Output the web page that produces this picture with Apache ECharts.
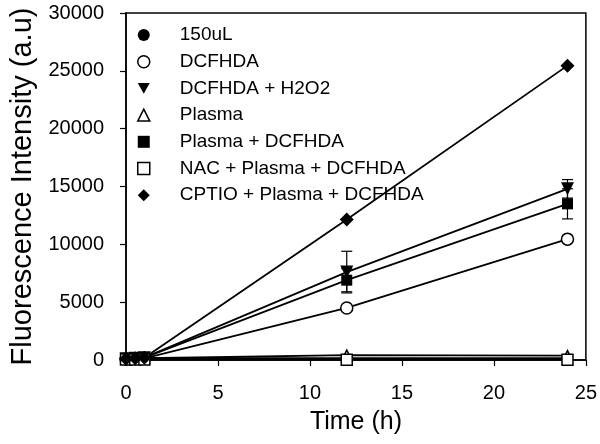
<!DOCTYPE html>
<html>
<head>
<meta charset="utf-8">
<script src="https://cdn.jsdelivr.net/npm/echarts@6/dist/echarts.min.js"></script>
<style>
  html, body { margin: 0; padding: 0; background: #fff; }
  #chart { width: 600px; height: 444px; }
</style>
</head>
<body>
<div id="chart"></div>
<script>
  // sampling times (h)
  const times = [0, 0.5, 1, 12, 24];

  // series values (a.u)
  const val150uL = [100, 120, 150, 150, 150];
  const valDCFHDA = [80, 100, 150, 4500, 10450];
  const valH2O2 = [100, 150, 200, 7600, 14800];
  const valPlasma = [100, 120, 150, 420, 380];
  const valPlasmaDCF = [100, 150, 200, 6900, 13500];
  const valNAC = [50, 50, 50, 30, 30];
  const valCPTIO = [100, 150, 200, 12150, 25450];

  // error bars (+/-)
  const errH2O2 = [0, 0, 0, 1800, 800];
  const errPlasmaDCF = [0, 0, 0, 1000, 1300];

  const xTicks = [0, 5, 10, 15, 20, 25];
  const yTicks = [0, 5000, 10000, 15000, 20000, 25000, 30000];

  const downTri = 'path://M0,0L10,0L5,9Z';
  const font = "'Liberation Sans', Arial, sans-serif";

  const filled = { color: '#000', borderColor: '#000', borderWidth: 0 };
  const hollow = { color: '#fff', borderColor: '#000', borderWidth: 1.5 };

  // name, symbol, size, style, values
  const defs = [
    ['150uL', 'circle', 10, filled, val150uL],
    ['DCFHDA', 'circle', 12, hollow, valDCFHDA],
    ['DCFHDA + H2O2', downTri, 13, filled, valH2O2],
    ['Plasma', 'triangle', 10, hollow, valPlasma],
    ['Plasma + DCFHDA', 'rect', 11, filled, valPlasmaDCF],
    ['NAC + Plasma + DCFHDA', 'rect', 11, hollow, valNAC],
    ['CPTIO + Plasma + DCFHDA', 'diamond', 14, filled, valCPTIO]
  ];

  function pairs(vals) {
    return times.map(function(t, i) { return [t, vals[i]]; });
  }

  function errData(vals, errs) {
    let out = [];
    for (let i = 0; i < times.length; i++) {
      if (errs[i]) out.push([times[i], vals[i] - errs[i], vals[i] + errs[i]]);
    }
    return out;
  }

  let series = [];
  // error bars drawn below markers
  series.push({
    type: 'custom',
    z: 1,
    silent: true,
    data: errData(valH2O2, errH2O2).concat(errData(valPlasmaDCF, errPlasmaDCF)),
    renderItem: function(params, api) {
      const lo = api.coord([api.value(0), api.value(1)]);
      const hi = api.coord([api.value(0), api.value(2)]);
      const w = 5.5;
      const st = { stroke: '#000', lineWidth: 1.2 };
      return {
        type: 'group',
        children: [
          { type: 'line', shape: { x1: lo[0], y1: lo[1], x2: hi[0], y2: hi[1] }, style: st },
          { type: 'line', shape: { x1: lo[0] - w, y1: lo[1], x2: lo[0] + w, y2: lo[1] }, style: st },
          { type: 'line', shape: { x1: hi[0] - w, y1: hi[1], x2: hi[0] + w, y2: hi[1] }, style: st }
        ]
      };
    }
  });

  defs.forEach(function(d) {
    series.push({
      name: d[0],
      type: 'line',
      z: 2,
      data: pairs(d[4]),
      symbol: d[1],
      symbolSize: d[2],
      showAllSymbol: true,
      itemStyle: d[3],
      lineStyle: { color: '#000', width: 1.8 },
      emphasis: { disabled: true },
      animation: false
    });
  });

  const chart = echarts.init(document.getElementById('chart'));
  chart.setOption({
    backgroundColor: '#fff',
    animation: false,
    textStyle: { fontFamily: font, color: '#000' },
    grid: {
      left: 119, right: 13, top: 13, bottom: 84,
      show: true, borderColor: '#000', borderWidth: 1.5
    },
    legend: {
      orient: 'vertical',
      left: 137,
      top: 25,
      padding: 0,
      itemWidth: 12,
      itemHeight: 12,
      itemGap: 6.7,
      selectedMode: false,
      textStyle: { fontFamily: font, fontSize: 19, color: '#000', lineHeight: 20, padding: [0, 0, 0, 25] },
      data: defs.map(function(d) {
        return { name: d[0], icon: d[1], itemStyle: d[3] };
      })
    },
    xAxis: {
      type: 'value',
      min: xTicks[0],
      max: xTicks[xTicks.length - 1],
      interval: 5,
      name: 'Time (h)',
      nameLocation: 'middle',
      nameGap: 50,
      nameTextStyle: { fontFamily: font, fontSize: 25, color: '#000' },
      axisLine: { onZero: false, lineStyle: { color: '#000', width: 1.5 } },
      axisTick: { show: true, inside: false, length: 6, lineStyle: { color: '#000', width: 1.2 } },
      axisLabel: { fontFamily: font, fontSize: 20, color: '#000', margin: 23 },
      splitLine: { show: false }
    },
    yAxis: {
      type: 'value',
      min: yTicks[0],
      max: yTicks[yTicks.length - 1],
      interval: 5000,
      name: 'Fluorescence Intensity (a.u)',
      nameLocation: 'middle',
      nameGap: 89,
      nameTextStyle: { fontFamily: font, fontSize: 29, color: '#000' },
      axisLine: { lineStyle: { color: '#000', width: 1.5 } },
      axisTick: { show: true, inside: false, length: 6, lineStyle: { color: '#000', width: 1.2 } },
      axisLabel: {
        fontFamily: font, fontSize: 20, color: '#000', margin: 22,
        formatter: function(v) { return String(v); }
      },
      splitLine: { show: false }
    },
    series: series
  });
</script>
</body>
</html>
